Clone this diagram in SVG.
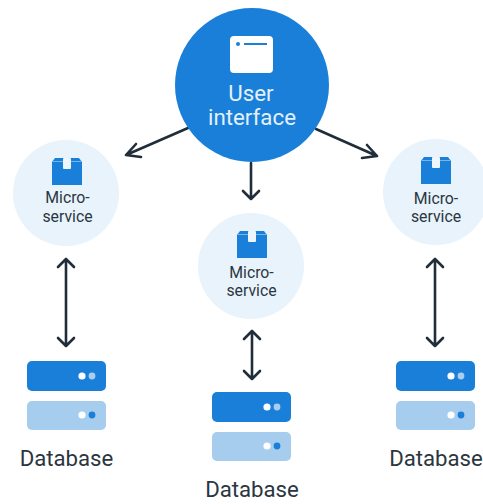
<svg xmlns="http://www.w3.org/2000/svg" xmlns:xlink="http://www.w3.org/1999/xlink" width="483" height="504" viewBox="0 0 483 504">
<style>
.t{font-family:Roboto,"Liberation Sans",sans-serif;text-anchor:middle}
.ms{font-size:15.800px;fill:#2b3640}
.db{font-size:22.200px;fill:#2b3640}
.ui{font-size:22.300px;fill:#e3f1fc}
.c{fill:none;stroke:#1f2e3a;stroke-width:2.600;stroke-linecap:round;stroke-linejoin:round}
</style>
<defs>
<g id="box">
<path d="M-12,-15 H12 L15,-11 V12 H-15 V-11 Z" fill="#1a7fd9"/>
<path d="M-14,-11.500 H14" stroke="#8fc2ee" stroke-width="0.800" fill="none"/>
<rect x="-4" y="-15" width="8" height="11" rx="1" fill="#eef6fc"/>
</g>
<g id="dbicon">
<rect x="-40" y="-29" width="79" height="30" rx="5" fill="#1a7fd9"/>
<circle cx="15" cy="-14" r="3.600" fill="#fff"/><circle cx="25" cy="-14" r="3.400" fill="#a9cdec"/>
<rect x="-40" y="11" width="79" height="29" rx="5" fill="#a6cdee"/>
<circle cx="15" cy="25" r="3.600" fill="#fff"/><circle cx="25" cy="25" r="3.400" fill="#1a7fd9"/>
</g>
</defs>
<rect width="483" height="504" fill="#fff"/>
<g id="connectors" class="c">
<path d="M188,128 L126,155 M136,144 L126,155 L141,157"/>
<path d="M316,129 L377,156 M367,145 L377,156 L362,158"/>
<path d="M251,163 V199 M243,191 L251,199 L259,191"/>
<path d="M66,259 V346 M58,267 L66,259 L74,267 M58,338 L66,346 L74,338"/>
<path d="M252,331 V379 M244,339 L252,331 L260,339 M244,371 L252,379 L260,371"/>
<path d="M435,259 V346 M427,267 L435,259 L443,267 M427,338 L435,346 L443,338"/>
</g>
<g id="ui">
<circle cx="252" cy="85" r="77" fill="#1a7fd9"/>
<rect x="230" y="36" width="43" height="37" rx="4" fill="#fff"/>
<circle cx="238" cy="44" r="2" fill="#1a7fd9"/>
<rect x="244" y="43" width="23" height="2" fill="#1a7fd9"/>
<text class="t ui" x="251" y="101">User</text>
<text class="t ui" x="252" y="125">interface</text>
</g>
<g id="ms-left">
<circle cx="66" cy="193" r="53" fill="#e8f3fc"/>
<use xlink:href="#box" href="#box" x="67" y="173"/>
<text class="t ms" x="67.500" y="203">Micro-</text>
<text class="t ms" x="67.500" y="222">service</text>
</g>
<g id="ms-center">
<circle cx="251" cy="266" r="53" fill="#e8f3fc"/>
<use xlink:href="#box" href="#box" x="252" y="246"/>
<text class="t ms" x="251.500" y="278">Micro-</text>
<text class="t ms" x="251.500" y="296">service</text>
</g>
<g id="ms-right">
<circle cx="436" cy="192" r="53" fill="#e8f3fc"/>
<use xlink:href="#box" href="#box" x="436" y="172"/>
<text class="t ms" x="436" y="204">Micro-</text>
<text class="t ms" x="436" y="222">service</text>
</g>
<g id="db-left">
<use xlink:href="#dbicon" href="#dbicon" x="67" y="390"/>
<text class="t db" x="66.500" y="466">Database</text>
</g>
<g id="db-center">
<use xlink:href="#dbicon" href="#dbicon" x="252" y="421"/>
<text class="t db" x="252" y="497">Database</text>
</g>
<g id="db-right">
<use xlink:href="#dbicon" href="#dbicon" x="436" y="390"/>
<text class="t db" x="436" y="466">Database</text>
</g>
</svg>
